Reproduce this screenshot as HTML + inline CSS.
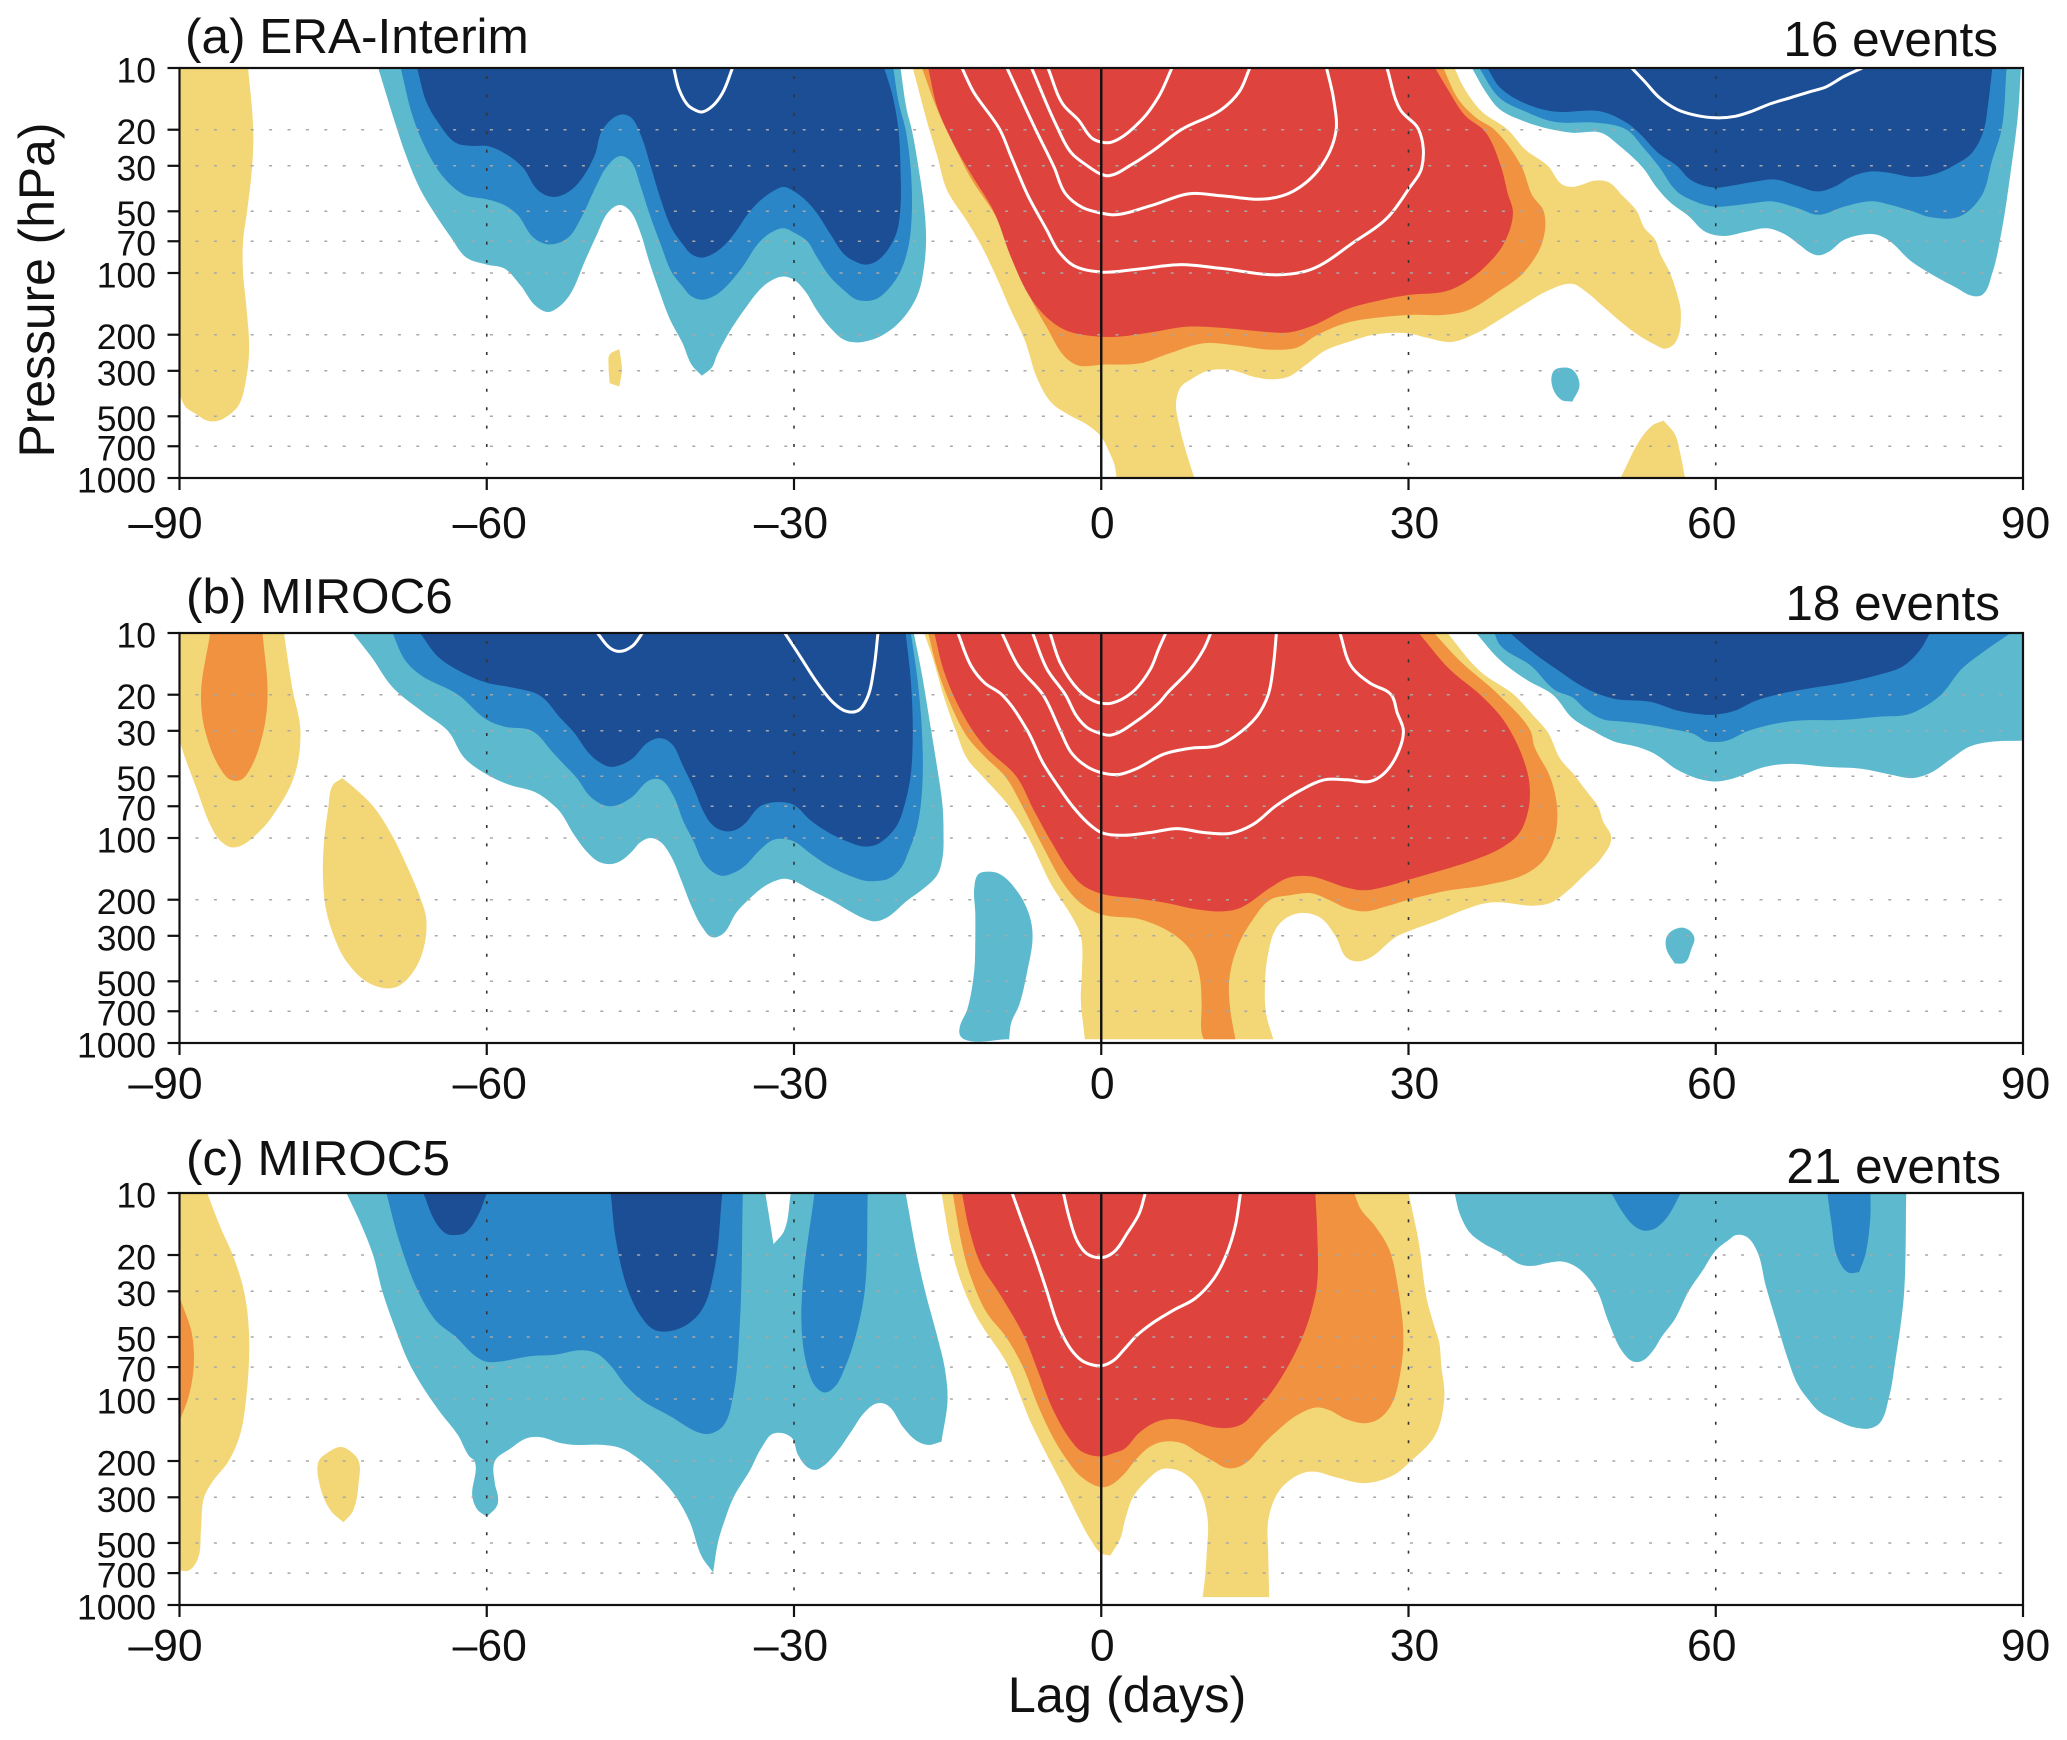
<!DOCTYPE html>
<html lang="en">
<head>
<meta charset="utf-8">
<title>Lag-pressure composites</title>
<style>
html,body{margin:0;padding:0;background:#fff;}
svg{display:block;}
text{font-family:"Liberation Sans",Arial,sans-serif;fill:#111;}
</style>
</head>
<body>
<svg id="chart" xmlns="http://www.w3.org/2000/svg" width="2067" height="1740" viewBox="0 0 2067 1740">
<defs>
<clipPath id="clip-a"><rect x="179.5" y="68" width="1843.5" height="410"/></clipPath>
<clipPath id="clip-b"><rect x="179.5" y="633" width="1843.5" height="410"/></clipPath>
<clipPath id="clip-c"><rect x="179.5" y="1193" width="1843.5" height="412"/></clipPath>
</defs>
<g id="layers"></g>
<text x="185" y="53" font-size="49.5">(a) ERA-Interim</text>
<text x="1998" y="56" font-size="49.5" text-anchor="end">16 events</text>
<text x="186" y="613" font-size="49.5">(b) MIROC6</text>
<text x="2000" y="620" font-size="49.5" text-anchor="end">18 events</text>
<text x="186" y="1175" font-size="49.5">(c) MIROC5</text>
<text x="2001" y="1183" font-size="49.5" text-anchor="end">21 events</text>
<text transform="translate(54,290) rotate(-90)" font-size="49.8" text-anchor="middle">Pressure (hPa)</text>
<text x="1127" y="1712" font-size="50.5" text-anchor="middle">Lag (days)</text>
</svg>
<script>
// Axis tick values
const pressureTicks = [10, 20, 30, 50, 70, 100, 200, 300, 500, 700, 1000];
const lagTicks = [-90, -60, -30, 0, 30, 60, 90];
const lagGridLines = [-60, -30, 30, 60];

// Contour regions: each point is [lag in days, pressure in hPa]
// Panel (a) ERA-Interim
const aYellowLeft = [[-90,10],[-83.3,10],[-82.8,20],[-82.9,30],[-83.4,50],[-83.8,70],[-83.8,100],[-83.5,141],[-83.2,236],[-83.5,330],[-84.2,440],[-85.1,490],[-86.2,525],[-87.3,525],[-88.3,490],[-89.4,450],[-90,390]];
const aYellowSmall = [[-47.05,235],[-48,250],[-48.1,285],[-48,345],[-47.05,358],[-46.8,295]];
const aCyanMain = [[-70.6,10],[-69.2,16.9],[-67.85,27],[-66.5,39],[-65,52],[-63.5,67],[-62,84],[-60,91],[-58.3,95],[-56.7,115],[-55.2,145],[-54,155],[-53,147],[-51.9,128],[-50.4,87],[-49.3,66],[-48,49.6],[-46.96,46.6],[-46.05,49.5],[-45,63.5],[-44.2,86],[-43.2,120.6],[-42.1,169],[-40.9,219],[-40,280],[-39,317],[-38,288],[-37.5,250],[-36.2,190],[-34.6,145],[-33.3,120],[-32.1,108],[-31,104],[-30,108],[-28.9,123],[-27.8,151],[-26.5,184],[-25.1,212],[-24,218],[-22.9,215],[-21.6,204],[-19.9,178],[-18.6,148],[-17.8,123],[-17.3,93],[-17.1,69],[-17.3,47.4],[-17.8,31.5],[-18.5,20],[-19,16],[-19.6,10]];
const aMidMain = [[-68.4,10],[-67.2,17.4],[-65.9,25],[-64.1,34.7],[-62.2,41.5],[-60,43.7],[-58.3,46.6],[-57,52],[-55.4,67.5],[-53.9,72.5],[-52.1,67.5],[-50.8,54],[-49.3,37.5],[-48.2,30],[-47,26.9],[-46,28.3],[-45,37.5],[-44.2,50],[-43,73],[-41.9,100],[-40.9,116],[-40,130],[-39,135],[-38,131],[-36.9,120],[-35.2,96],[-33.3,70],[-32,62.5],[-31,60.5],[-30,63.5],[-28.7,70],[-27.8,83],[-26.5,104],[-25,123],[-24,134],[-23,137],[-22,134],[-20.8,120],[-19.6,98],[-18.8,73],[-18.5,51],[-18.6,31.5],[-19.1,20],[-19.8,14.6],[-20.3,10]];
const aDarkMain = [[-66.8,10],[-65.9,14.6],[-64.8,18.3],[-63,23.2],[-61.5,24],[-60,24],[-58.3,26],[-56.5,30.5],[-55,39.5],[-53.7,42.5],[-52.8,42],[-51.3,37.5],[-49.5,27],[-48.7,20],[-47,16.9],[-46,17.3],[-45,21],[-44,30],[-43,44],[-41.9,61],[-40.9,72],[-40,81],[-39,84],[-38,81],[-36.9,74],[-35.9,65],[-34.3,50],[-33,43],[-31.7,39],[-31,38],[-30,40],[-29,43.5],[-27.9,50],[-26.5,64],[-25,82],[-24,88],[-23,91],[-22,88],[-21,79],[-20,64],[-19.6,47.5],[-19.6,31.5],[-19.8,20],[-20.4,13.5],[-21.2,10]];
const aContourNeg = [[-41.75,10],[-41.2,12.8],[-40.4,15.1],[-39.7,16],[-39,16.4],[-38,15.4],[-37,13.3],[-36,10]];
const aYellowCenter = [[-18.4,10],[-17,18.3],[-16,27],[-15.1,39],[-13.1,56],[-11.8,72],[-10.3,103],[-8.8,153],[-7.5,210],[-6.2,332],[-4.85,430],[-3.1,494],[-1.35,550],[0,630],[0.8,750],[1.3,865],[1.5,1000],[9.1,1000],[8.25,735],[7.6,550],[7.3,430],[7.8,358],[8.7,332],[10.4,300],[12.6,297],[14.8,320],[16.5,330],[18.3,320],[20,280],[21.8,240],[24,218],[26.6,200],[30,197],[31.8,207],[34.2,217],[36.6,197],[38.8,170],[41.4,141],[43.6,122],[46,113],[47.2,122],[49.1,147],[50.9,176],[52.7,205],[54.1,224],[55,234],[56,220],[56.6,158],[56.2,125],[55.5,99],[54.6,81],[54.1,69],[53,60],[52.3,50],[50.9,42],[49.5,36],[48.1,35.5],[47,37],[46,38],[45,37],[43.6,30],[41.4,25],[39.7,20],[37.1,16.2],[35.3,12.2],[34.5,10]];
const aOrangeCenter = [[-17.5,10],[-16,16],[-14,26],[-12.7,34.7],[-10.3,53],[-8.3,93],[-7,130],[-5.3,185],[-3.5,258],[-2.2,283],[0,280],[3.9,275],[6.5,248],[10,220],[13,225],[17,237],[19.2,230],[20.9,203],[24,175],[27.5,164],[30.5,160],[33.6,160],[35.8,152],[38.8,123],[41.2,100],[43.1,70],[43.2,50],[42.1,42],[41,30],[38.4,20],[36.6,17.5],[34.9,14.3],[33.4,10]];
const aRedCenter = [[-16.9,10],[-16,15.6],[-14.5,23],[-12.7,33],[-10.5,50],[-8.8,84],[-7,130],[-5.3,165],[-3.5,190],[-1.8,200],[1.3,205],[4.8,195],[8.3,183],[11.7,185],[15.2,192],[18.3,195],[20.5,182],[24,150],[27.5,135],[30,128],[33.6,123],[35.3,113],[37.5,93],[39.3,72],[40.2,50.7],[39.7,41],[39,30],[37.5,20.5],[35.5,17],[33.8,12.6],[32.6,10]];
const aContour1 = [[-13.6,10],[-12.5,13],[-9.9,20],[-8.8,27],[-7.2,41.5],[-5.3,62],[-4.2,78],[-2.7,92],[0,99],[3.4,96],[7.8,91],[11.7,95],[17.4,102],[20.5,96],[24.8,70],[27.9,54],[30,39],[31.3,30.5],[31,20],[29.2,16],[27.9,10]];
const aContour2 = [[-9.2,10],[-6.4,20],[-4.6,30.5],[-3.5,41],[-1.8,48],[0,51],[1.3,52],[4.8,47],[8.7,41],[11.7,42],[16.1,43.5],[18.7,40],[21.4,30.5],[22.9,20.6],[22.7,14.3],[22,10]];
const aContour3 = [[-6.8,10],[-4.4,19],[-2.9,26],[-1.35,30],[0,33],[0.8,33.5],[3,29.5],[5.2,25],[7.8,20],[11.7,16],[13.5,13],[14.5,10]];
const aContour4 = [[-5.2,10],[-3.75,15],[-2.2,18],[-0.9,22],[0,23],[1,23],[3.9,18],[5.6,13.8],[6.9,10]];
const aCyanRight = [[36.2,10],[37.5,13],[38.9,15.9],[41.4,18.3],[43.5,19.7],[46,20.7],[48.8,20.7],[50.6,24],[52.9,30.7],[54.1,37.5],[55.5,45],[57.3,52.5],[59,63],[60.8,66],[62.9,63],[65,60.5],[66.8,65],[68.2,73],[69.1,79],[70,82],[71,79],[72.5,69],[74.3,65],[75.7,65],[77,70],[79,87],[81.3,103],[83.5,118],[85,129],[86,128],[87,100],[87.9,63],[88.8,32],[89.5,17],[89.8,10]];
const aMidRight = [[36.9,10],[38.9,14],[41.4,16.3],[44.2,18.3],[48.4,18.5],[51.3,20],[53,24.7],[54.4,30],[56.2,40],[57.6,44],[59.8,47.5],[61.5,47],[63.6,45.6],[65.4,44.7],[67.9,48],[70,52],[72.5,47.5],[75.3,44.7],[77,46.5],[79.2,50],[81,53.5],[83.8,53],[85.9,42.5],[87,28],[87.9,20],[88.4,10]];
const aDarkRight = [[37.7,10],[38.9,12.4],[41.4,14.9],[44.2,16.3],[48.8,16.3],[51.3,18.5],[52.5,20.7],[54.4,26],[56.2,30],[57.6,35.3],[59.8,38.3],[61.5,37.5],[63.6,36],[65.8,35],[67.9,37.5],[70,40],[71.8,37.5],[73.2,34],[75,32],[77,32.5],[79.2,34],[81.3,33],[83.8,28.8],[85,26],[86.1,20.6],[86.6,14.9],[87,10]];
const aContourRight = [[51.8,10],[53.1,11.7],[54.4,13.8],[56.2,15.9],[58,17],[60,17.5],[61.9,17.2],[63.6,16.2],[65.4,14.9],[67.2,14],[69.3,13],[70.7,12.4],[72.5,11],[74.3,10]];
const aCyanBlob = [[44.9,290],[46,296],[46.7,351],[46,424],[44.9,415],[44,351],[44.2,300]];
const aYellowBottom = [[50.7,1000],[52.8,630],[53.9,550],[54.9,525],[56,610],[56.5,745],[57,1000]];

// Panel (b) MIROC6
const bYellowLeft = [[-90,10],[-79.8,10],[-79,18.5],[-78.2,30],[-78.8,50],[-80.9,78],[-82.2,93],[-84,109],[-85,111],[-86.1,102],[-87,86],[-88.3,58],[-89.8,36],[-90,33]];
const bOrangeLeft = [[-87,10],[-87.9,20],[-87.5,30],[-86,46],[-85,52],[-84,52],[-83.1,46],[-81.8,30],[-81.4,20],[-81.9,10]];
const bYellowDrop = [[-74.1,51],[-75,55],[-75.5,73],[-75.9,106],[-76,153],[-75.7,223],[-74.8,313],[-73.7,400],[-71.8,500],[-70,540],[-68.7,530],[-67.4,465],[-66.3,365],[-65.9,250],[-66.5,195],[-67.8,137],[-69.2,98],[-71.1,70],[-73.1,56]];
const bCyanMain = [[-73.1,10],[-71.3,13],[-69.2,18.4],[-66.1,24.6],[-63.8,30],[-62.2,40.6],[-60,49],[-57.8,55],[-55.2,60],[-53.5,69],[-52.8,75],[-51.5,96],[-50,120],[-49,131],[-47.9,134],[-46.9,129],[-45.8,116],[-45,105],[-44,100],[-43,105],[-42,123],[-40.9,166],[-40,216],[-39,270],[-38,305],[-37,295],[-35.6,230],[-34.4,199],[-33.1,175],[-32,163],[-31,158],[-30,162],[-28.4,179],[-26.1,205],[-24.2,233],[-23,249],[-22,255],[-20.9,244],[-19,203],[-17.5,179],[-16,151],[-15.5,125],[-15.4,93],[-15.5,69],[-16,46],[-16.7,28],[-17.5,16],[-18.3,10]];
const bMidMain = [[-69.2,10],[-68,13.5],[-66.5,16],[-62.8,20],[-60,26.5],[-58.3,28.6],[-55.6,30],[-53.5,38.5],[-52.8,42],[-51.2,51],[-50,62],[-48.9,68],[-47.9,70],[-46.9,68],[-45.8,63],[-44,52],[-43,52],[-41.8,62],[-40.8,83],[-39.8,104],[-38.8,133],[-37.8,148],[-37,153],[-35.9,148],[-34.9,138],[-33.3,114],[-32,102],[-31,101],[-30,104],[-28.4,119],[-26.8,135],[-24.8,151],[-22.9,162],[-21.9,162],[-20.8,158],[-19.6,141],[-18.8,116],[-18,89],[-17.5,59],[-17.5,30.5],[-18,16],[-18.6,10]];
const bDarkMain = [[-66.5,10],[-64.8,13],[-62.6,15.4],[-60,17.5],[-57.4,18.5],[-54.8,20.2],[-52.8,26],[-51.5,30.5],[-50,38.7],[-48.9,43],[-47.9,45],[-46.9,44],[-45.8,41],[-44.2,34],[-43,32.6],[-42,34.5],[-40.8,45],[-39.8,57],[-38.8,75],[-38,86],[-37,92],[-35.9,92],[-34.9,86],[-33.3,70],[-32,67],[-31,67],[-30,69],[-28.4,82],[-26.8,93],[-24.8,104],[-23.2,110],[-22,108],[-21,100],[-19.9,86],[-19.1,66],[-18.6,49],[-18.4,30.5],[-18.6,17],[-19.1,10]];
const bContourNeg1 = [[-49.2,10],[-47.9,11.9],[-47,12.3],[-45.8,11.6],[-44.8,10]];
const bContourNeg2 = [[-30.9,10],[-29.4,13],[-27.8,17.3],[-26.1,22],[-25,24],[-23.8,24],[-22.9,21],[-22.2,14.9],[-21.8,10]];
const bYellowCenter = [[-17.3,10],[-16.4,13.5],[-15.3,21],[-14.2,30],[-13.1,41],[-11.6,50],[-9,70],[-7,102],[-4.85,170],[-2.9,240],[-2,300],[-1.9,470],[-2,610],[-1.6,958],[16.8,958],[16.1,720],[16,490],[16.3,365],[17,280],[18.1,245],[19.6,232],[21.4,245],[22.9,303],[24,385],[25,400],[26.2,385],[28.8,303],[30,285],[33.1,250],[35.3,225],[37.5,208],[38.9,206],[42.2,214],[43.9,207],[45.6,180],[47.2,151],[48.8,126],[49.8,100],[49,83],[48.5,70],[47.7,62],[46.9,55],[46.3,50],[44.8,41],[43.6,30.5],[42.1,25],[40.3,20],[37,15.4],[33.8,10]];
const bOrangeCenter = [[-16.9,10],[-16,15],[-14.5,23.6],[-13.1,32],[-11.4,40],[-9.4,50],[-7.7,70],[-5.7,110],[-3.5,172],[-1.8,212],[0,236],[3.9,250],[7.4,303],[8.9,365],[9.6,470],[9.8,640],[9.8,890],[10,958],[13.1,958],[12.6,690],[12.5,490],[13.3,340],[14.8,250],[16.5,200],[18.5,190],[20.5,186],[22.2,200],[24,220],[25.7,228],[27.9,215],[30,200],[34,180],[37.5,170],[41.4,150],[43.2,128],[44.3,98],[44.5,70],[43.8,50],[42.3,36],[41.9,30],[38.8,20],[34.9,13.5],[32.5,10]];
const bRedCenter = [[-16.3,10],[-15.3,15.7],[-13.4,25.5],[-11.4,35.7],[-8.3,50],[-6.6,73],[-4.85,105],[-3.1,145],[-1.8,170],[0,187],[3.4,197],[6.5,208],[9.1,222],[11.7,228],[13.5,220],[16.5,175],[18.3,156],[20.5,154],[22.2,163],[24,175],[25.7,180],[27.9,172],[30,160],[34,140],[36.6,127],[39.3,110],[40.8,95],[41.7,73],[41.8,54],[41.2,41],[40.1,31],[39,25.5],[37,20],[34,15],[31,10]];
const bContour1 = [[-14,10],[-12.7,14.5],[-11.4,17.5],[-9.7,20],[-7.2,30],[-5.7,43],[-4.2,56],[-2.9,69],[-1.35,84],[0,94],[2.1,97],[4.8,94],[7.4,90],[10,94],[12.6,95],[14.8,86],[17,70],[19.6,58],[21.8,52],[24,52],[26.2,53],[27.5,49],[28.8,40],[29.5,30],[28.9,24.5],[28.3,20],[26.2,17.5],[24.4,14.5],[23.3,10]];
const bContour2 = [[-9.7,10],[-8.1,14.5],[-5.7,20],[-4,30],[-2.9,38.5],[-1.35,45],[0,48],[1.7,49],[3.4,46],[6.1,39],[8.7,36.5],[11.3,35.5],[13,32],[15.2,25.5],[16.3,20],[16.8,14.5],[17.1,10]];
const bContour3 = [[-6.7,10],[-5.3,15],[-3.5,20],[-2.4,25.5],[-1.35,29],[0,31],[0.9,31.5],[3.4,27],[5.6,22],[6.5,19.5],[8.7,15],[10,12],[10.7,10]];
const bContour4 = [[-5,10],[-4,14],[-2.2,19],[-0.7,21.5],[0,22],[1,22],[3,19.5],[4.8,15],[5.6,12],[6.3,10]];
const bCyanRight = [[36.6,10],[38.9,13.5],[41.6,17],[44.1,20],[46,26],[48,30],[50,33.7],[52.4,36],[54.1,39],[56.1,46],[58.1,51],[60,53],[61.8,51],[64.8,45],[67.2,43.5],[70.9,45],[74.3,46],[77,49],[79.2,51],[81,48],[83,41],[84.7,36],[86.7,34],[90,33.5],[90,10]];
const bMidRight = [[38.4,10],[38.9,11.4],[42,14.5],[44.3,19],[46,20.6],[47.3,23.6],[49,26.4],[50.7,27],[53.4,28],[55.8,29.5],[57.8,31],[59.1,33.7],[60,34],[61.1,33.5],[63.2,30],[67.2,27],[72.6,26.5],[75.9,25.6],[78.7,25],[80.3,23],[82,20],[84,15],[86,12.5],[88.8,10]];
const bDarkRight = [[39.9,10],[42.3,12.6],[44.6,15.2],[47.3,18.6],[50,20.9],[53.7,21.7],[56.4,24],[58.8,25],[60,25],[61.8,24],[63.8,21.5],[65.9,20],[69.2,18.6],[72.6,17.5],[75.9,16],[78.3,14.5],[80,12],[80.9,10]];
const bCyanBlob = [[55.9,280],[57,275],[57.9,304],[57.6,350],[57,405],[56,410],[55.2,350],[55.2,304]];
const bCyanLower = [[-11.2,146],[-12,150],[-12.4,175],[-12.3,232],[-12.3,303],[-12.4,442],[-13.1,690],[-13.8,830],[-13.8,915],[-13.4,958],[-9,958],[-8.8,800],[-8,650],[-7.2,440],[-6.7,303],[-7,240],[-8.1,185],[-9.9,150]];

// Panel (c) MIROC5
const cYellowLeft = [[-90,10],[-87.3,10],[-86,14.7],[-84.8,20],[-83.7,30],[-83.2,50],[-83.5,100],[-84.1,150],[-85.2,200],[-86.8,253],[-87.6,300],[-87.9,427],[-88.2,595],[-89.1,680],[-90,680]];
const cOrangeLeft = [[-90,32],[-88.8,48],[-88.6,68],[-89.1,97],[-90,128]];
const cYellowSmall = [[-74.2,171],[-75.6,183],[-76.4,200],[-76.4,249],[-75.3,345],[-74,397],[-73.1,352],[-72.5,254],[-72.5,200],[-73.1,183]];
const cCyanMain = [[-73.7,10],[-72.3,14.1],[-71.1,20],[-70.2,30],[-68.9,46],[-67.7,65],[-66.4,85],[-64.6,115],[-62.8,150],[-61.7,190],[-61.2,200],[-61.4,300],[-60.9,345],[-60,373],[-59,330],[-58.9,300],[-59.2,258],[-59.2,200],[-57.7,174],[-56.1,155],[-54.9,153],[-52.7,164],[-51.5,167],[-48.7,167],[-46.8,174],[-44.9,200],[-42.7,253],[-41.5,300],[-40.2,392],[-39,582],[-37.9,695],[-37.4,490],[-36.8,392],[-35.9,300],[-34.3,222],[-33.1,170],[-32,147],[-30.3,153],[-29.6,187],[-28.7,214],[-27.9,221],[-27.1,211],[-25.9,183],[-24.3,141],[-23.1,116],[-21.9,105],[-20.9,107],[-19.3,138],[-18,160],[-16.9,167],[-15.6,161],[-15,100],[-15.3,70],[-16,50],[-17.2,30],[-18,20],[-19.1,10],[-30.3,10],[-31,15.4],[-32,17.7],[-32.8,10]];
const cMidMain = [[-69.8,10],[-68.6,16.8],[-66.7,30],[-64.9,42],[-63,50],[-61.1,62],[-60,66],[-58.9,66],[-55.8,62],[-53.3,61],[-50.8,58],[-49.3,60],[-48,68],[-46.5,85],[-44.9,101],[-42.1,121],[-39,147],[-38.1,147],[-36.9,135],[-36,100],[-35.3,44],[-35,10]];
const cDarkFirst = [[-66.2,10],[-64.9,14.1],[-63.9,15.8],[-63,16],[-62.1,15.6],[-60.8,12.7],[-60,10]];
const cDarkSecond = [[-47.9,10],[-47.4,16.8],[-46.2,29.7],[-44.9,40],[-43.7,46],[-42.4,47],[-40.6,44],[-39,37],[-37.8,24],[-37,10]];
const cMidSecond = [[-28,10],[-29.2,30],[-29.2,50],[-28.7,70],[-27.9,87],[-27,93],[-26,87],[-25,70],[-24,50],[-23.1,30],[-22.8,10]];
const cYellowCenter = [[-15.6,10],[-14.7,17.9],[-13.8,26],[-12.4,38],[-11.4,46],[-9.3,66],[-7.9,97],[-7,126],[-5.4,183],[-3.7,266],[-2.3,370],[-1,485],[0,562],[0.9,575],[1.9,470],[2.3,390],[3.1,300],[4.4,250],[5.8,220],[6.8,218],[8,228],[9.1,254],[9.9,300],[10.4,390],[10.3,562],[10.1,760],[9.9,915],[16.4,915],[16.3,562],[16.3,390],[17.1,293],[18.3,250],[19.8,228],[21,226],[22.9,240],[25.7,256],[28.5,235],[30,205],[32.6,150],[33.5,98],[33.2,69],[33,53],[32.5,44],[31.8,33],[31,17.3],[30,10]];
const cOrangeCenter = [[-14.5,10],[-13.6,17.9],[-12.8,25],[-11.2,38],[-9.3,50],[-7.7,69],[-6.1,110],[-4.7,154],[-3.3,199],[-1.9,240],[0,268],[0.9,262],[2.1,235],[3.3,199],[4.7,171],[6.1,161],[7.9,164],[9.3,180],[11,201],[12.2,216],[13.1,216],[14.3,201],[15.9,164],[17.3,141],[19.1,120],[21,110],[22.2,113],[23.9,125],[25.7,131],[27.1,125],[28.3,107],[29.2,75],[29.5,50],[29,29.5],[28.1,18.7],[26.7,14.4],[25.3,11.9],[24.7,10]];
const cRedCenter = [[-13.6,10],[-12.9,14.9],[-11.7,22.5],[-10,30.4],[-7.5,50],[-6.1,75],[-4.7,113],[-3,158],[-1.9,180],[0,190],[1.2,183],[2.3,174],[3.7,146],[5.4,129],[7,125],[8.9,129],[11,137],[12.6,138],[13.8,132],[15.2,112],[16.6,93],[18.4,67],[19.8,48],[20.8,33],[21.1,27],[21.1,16],[20.9,10]];
const cContour1 = [[-8.7,10],[-7.7,13.8],[-6.5,20],[-5.4,29],[-4.2,44],[-3,57],[-1.9,65],[-1,68],[0,69],[1.2,65],[2.3,57],[3.5,49],[5.1,42.5],[7.2,36.7],[9.1,32.7],[11,26],[12.2,20],[13.1,14.4],[13.6,10]];
const cContour2 = [[-3.7,10],[-3.1,13.3],[-2.3,17.3],[-1.4,19.7],[0,20.6],[1.2,19.4],[2.6,15.5],[3.7,12.6],[4.3,10]];
const cCyanRight = [[34.5,10],[35,12.6],[36,15.6],[37.1,17.3],[39.2,19.7],[41,22.3],[42.1,22.6],[43.7,21.8],[45,21.5],[46,22.3],[47.1,24.4],[48.4,29.7],[49.5,41.8],[51,60],[52,66],[52.9,65],[53.9,58],[54.7,50],[56,41],[57.4,29.7],[58.7,23.9],[60,19],[61.2,17],[62,16],[63,16.3],[64,19],[64.9,28.4],[65.9,41.8],[67,63],[68,85],[69,100],[70.1,115],[71.5,125],[73.2,136],[74.2,139],[75,139],[76,131],[76.9,99],[77.6,62],[78.1,42],[78.4,30],[78.6,10]];
const cMidRightFirst = [[49.8,10],[51,12.6],[52,14.4],[52.9,15.2],[53.9,15],[55.1,13.4],[56.6,10]];
const cMidRightSecond = [[70.9,10],[71.3,14],[71.9,20.6],[73,24.4],[74,24.2],[74.6,20],[75.1,13],[75.1,10]];

// Layout and colours
const PLOT_LEFT = 179.5, PLOT_RIGHT = 2023;
const COLOR_YELLOW = '#f3d675', COLOR_ORANGE = '#f09240', COLOR_RED = '#df433e';
const COLOR_CYAN = '#5dbace', COLOR_MID = '#2a86c6', COLOR_DARK = '#1c4e96';
const SVG_NS = 'http://www.w3.org/2000/svg';

// Hand-set horizontal offsets of the x tick labels, as placed in the source figure
function lagLabelNudge(lag){
  if (lag === -90) return -14;
  if (lag === -60) return 3;
  if (lag === -30) return -3;
  if (lag === 30) return 6;
  if (lag === 60) return -4;
  if (lag === 90) return 2.5;
  return 1;
}

const panels = [
  {id:'a', top:68, bottom:478, labelOffset:60,
   fills:[
     ['yellow-left', COLOR_YELLOW, aYellowLeft],['yellow-small', COLOR_YELLOW, aYellowSmall],
     ['cyan-main', COLOR_CYAN, aCyanMain],['mid-blue-main', COLOR_MID, aMidMain],['dark-blue-main', COLOR_DARK, aDarkMain],
     ['yellow-center', COLOR_YELLOW, aYellowCenter],['orange-center', COLOR_ORANGE, aOrangeCenter],['red-center', COLOR_RED, aRedCenter],
     ['cyan-right', COLOR_CYAN, aCyanRight],['mid-blue-right', COLOR_MID, aMidRight],['dark-blue-right', COLOR_DARK, aDarkRight],
     ['cyan-blob', COLOR_CYAN, aCyanBlob],['yellow-bottom', COLOR_YELLOW, aYellowBottom]],
   contours:[aContourNeg,aContour1,aContour2,aContour3,aContour4,aContourRight]},
  {id:'b', top:633, bottom:1043, labelOffset:55.5,
   fills:[
     ['yellow-left', COLOR_YELLOW, bYellowLeft],['orange-left', COLOR_ORANGE, bOrangeLeft],['yellow-drop', COLOR_YELLOW, bYellowDrop],
     ['cyan-main', COLOR_CYAN, bCyanMain],['mid-blue-main', COLOR_MID, bMidMain],['dark-blue-main', COLOR_DARK, bDarkMain],
     ['cyan-lower', COLOR_CYAN, bCyanLower],
     ['yellow-center', COLOR_YELLOW, bYellowCenter],['orange-center', COLOR_ORANGE, bOrangeCenter],['red-center', COLOR_RED, bRedCenter],
     ['cyan-right', COLOR_CYAN, bCyanRight],['mid-blue-right', COLOR_MID, bMidRight],['dark-blue-right', COLOR_DARK, bDarkRight],
     ['cyan-blob', COLOR_CYAN, bCyanBlob]],
   contours:[bContourNeg1,bContourNeg2,bContour1,bContour2,bContour3,bContour4]},
  {id:'c', top:1193, bottom:1605, labelOffset:55.5,
   fills:[
     ['yellow-left', COLOR_YELLOW, cYellowLeft],['orange-left', COLOR_ORANGE, cOrangeLeft],['yellow-small', COLOR_YELLOW, cYellowSmall],
     ['cyan-main', COLOR_CYAN, cCyanMain],['mid-blue-main', COLOR_MID, cMidMain],['dark-blue-first', COLOR_DARK, cDarkFirst],['dark-blue-second', COLOR_DARK, cDarkSecond],['mid-blue-second', COLOR_MID, cMidSecond],
     ['yellow-center', COLOR_YELLOW, cYellowCenter],['orange-center', COLOR_ORANGE, cOrangeCenter],['red-center', COLOR_RED, cRedCenter],
     ['cyan-right', COLOR_CYAN, cCyanRight],['mid-blue-right-first', COLOR_MID, cMidRightFirst],['mid-blue-right-second', COLOR_MID, cMidRightSecond]],
   contours:[cContour1,cContour2]}
];

// Axis functions
function xScale(lag){ return PLOT_LEFT + (lag + 90) / 180 * (PLOT_RIGHT - PLOT_LEFT); }
function yScale(p, panel){ return panel.top + (Math.log10(p) - 1) / 2 * (panel.bottom - panel.top); }

// A region is a free-standing loop unless both ends rest on the same plot edge
function isLoop(pts){
  const first = pts[0], last = pts[pts.length - 1];
  if (first[1] <= 10 && last[1] <= 10) return false;
  if (first[1] >= 1000 && last[1] >= 1000) return false;
  if (first[0] <= -90 && last[0] <= -90) return false;
  return true;
}
function unit(ax, ay){
  const m = Math.hypot(ax, ay) || 1;
  return [ax / m, ay / m];
}
// Smooth path through the data points; sharp turns stay as corners
function curvePath(pts, panel, closed){
  const xy = pts.map(function(d){ return [xScale(d[0]), yScale(d[1], panel)]; });
  const n = xy.length;
  const wrap = closed && isLoop(pts);
  function handles(i){
    const p = xy[i];
    const prev = i > 0 ? xy[i - 1] : (wrap ? xy[n - 1] : null);
    const next = i < n - 1 ? xy[i + 1] : (wrap ? xy[0] : null);
    if (!prev) { const t = unit(next[0] - p[0], next[1] - p[1]); return {into:t, out:t}; }
    if (!next) { const t = unit(p[0] - prev[0], p[1] - prev[1]); return {into:t, out:t}; }
    const a = unit(p[0] - prev[0], p[1] - prev[1]);
    const b = unit(next[0] - p[0], next[1] - p[1]);
    if (a[0] * b[0] + a[1] * b[1] < 0.45) return {into:a, out:b};
    const t = unit(a[0] + b[0], a[1] + b[1]);
    return {into:t, out:t};
  }
  let d = 'M' + xy[0][0].toFixed(1) + ' ' + xy[0][1].toFixed(1);
  const segments = wrap ? n : n - 1;
  for (let i = 0; i < segments; i++) {
    const j = (i + 1) % n;
    const p = xy[i], q = xy[j];
    const len = Math.hypot(q[0] - p[0], q[1] - p[1]) / 3;
    const h1 = handles(i).out, h2 = handles(j).into;
    d += 'C' + (p[0] + h1[0] * len).toFixed(1) + ' ' + (p[1] + h1[1] * len).toFixed(1) + ' ' +
         (q[0] - h2[0] * len).toFixed(1) + ' ' + (q[1] - h2[1] * len).toFixed(1) + ' ' +
         q[0].toFixed(1) + ' ' + q[1].toFixed(1);
  }
  return closed ? d + 'Z' : d;
}
function line(parent, x1, y1, x2, y2, stroke, width, dash){
  const el = document.createElementNS(SVG_NS, 'line');
  el.setAttribute('x1', x1); el.setAttribute('y1', y1); el.setAttribute('x2', x2); el.setAttribute('y2', y2);
  el.setAttribute('stroke', stroke); el.setAttribute('stroke-width', width);
  if (dash) el.setAttribute('stroke-dasharray', dash);
  parent.appendChild(el);
  return el;
}
function label(parent, x, y, str, size, anchor){
  const el = document.createElementNS(SVG_NS, 'text');
  el.setAttribute('x', x); el.setAttribute('y', y); el.setAttribute('font-size', size); el.setAttribute('text-anchor', anchor);
  el.textContent = str;
  parent.appendChild(el);
  return el;
}

const root = document.getElementById('layers');
panels.forEach(function(panel){
  const g = document.createElementNS(SVG_NS, 'g');
  
  
  root.appendChild(g);

  const plot = document.createElementNS(SVG_NS, 'g');
  plot.setAttribute('clip-path', 'url(#clip-' + panel.id + ')');
  
  
  g.appendChild(plot);

  panel.fills.forEach(function(layer){
    const shape = document.createElementNS(SVG_NS, 'path');
    shape.setAttribute('d', curvePath(layer[2], panel, true));
    shape.setAttribute('fill', layer[1]);
    
    
    plot.appendChild(shape);
  });

  panel.contours.forEach(function(pts){
    const contour = document.createElementNS(SVG_NS, 'path');
    contour.setAttribute('d', curvePath(pts, panel, false));
    contour.setAttribute('fill', 'none');
    contour.setAttribute('stroke', '#fff');
    contour.setAttribute('stroke-width', '3');
    contour.setAttribute('stroke-linejoin', 'round');
    
    
    plot.appendChild(contour);
  });

  pressureTicks.forEach(function(p){
    const y = yScale(p, panel);
    if (p !== 10 && p !== 1000) {
      const grid = line(g, PLOT_LEFT + 16, y, PLOT_RIGHT - 15, y, '#a8a8a8', 1.5, '3 15.4');
      
      
    }
    const tick = line(g, PLOT_LEFT - 12, y, PLOT_LEFT, y, '#111', 2.2);
    
    
    const t = label(g, 156, y + 14.5, String(p), 35.5, 'end');
    
    
  });

  lagGridLines.forEach(function(lag){
    const vg = line(g, xScale(lag), panel.top + 8, xScale(lag), panel.bottom - 6, '#333', 1.6, '3 15.4');
    
    
  });

  const zero = line(g, xScale(0), panel.top, xScale(0), panel.bottom, '#111', 2.4);
  
  

  const frame = document.createElementNS(SVG_NS, 'rect');
  frame.setAttribute('x', PLOT_LEFT);
  frame.setAttribute('y', panel.top);
  frame.setAttribute('width', PLOT_RIGHT - PLOT_LEFT);
  frame.setAttribute('height', panel.bottom - panel.top);
  frame.setAttribute('fill', 'none');
  frame.setAttribute('stroke', '#111');
  frame.setAttribute('stroke-width', '2.2');
  
  
  g.appendChild(frame);

  lagTicks.forEach(function(lag){
    const x = xScale(lag);
    const tick = line(g, x, panel.bottom, x, panel.bottom + 12, '#111', 2.2);
    
    
    const text = (lag < 0 ? '\u2013' + Math.abs(lag) : String(lag));
    const t = label(g, x + lagLabelNudge(lag), panel.bottom + panel.labelOffset, text, 44.5, 'middle');
    
    
  });
});
</script>
</body>
</html>
